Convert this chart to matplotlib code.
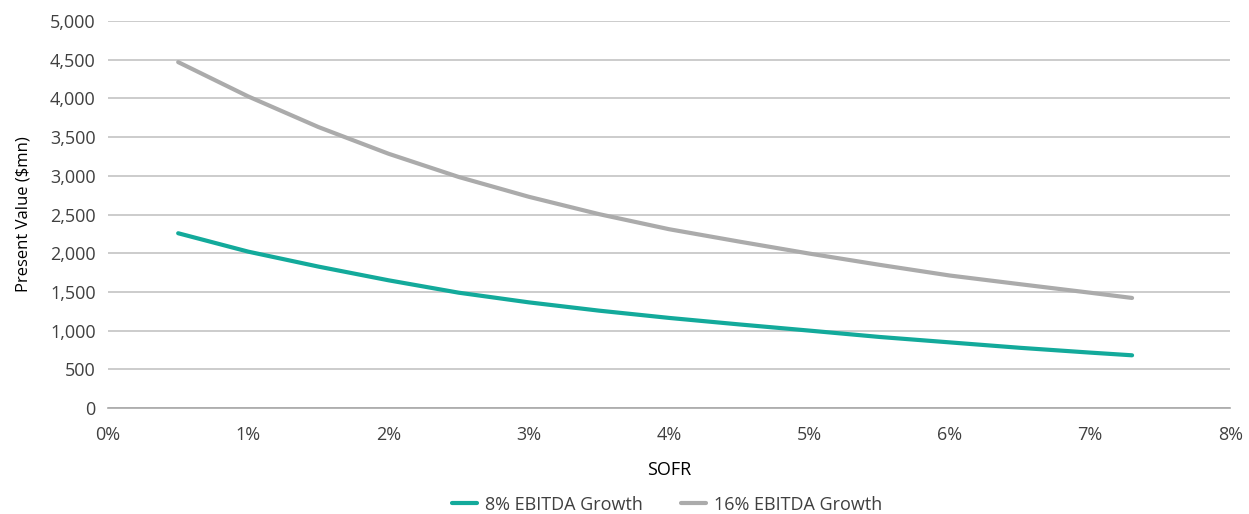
import numpy as np
import matplotlib as mpl
mpl.use('Agg')
import matplotlib.pyplot as plt
from matplotlib.ticker import FuncFormatter

# SOFR (%) and present value ($mn)
sofr = [0.5, 1.0, 1.5, 2.0, 2.5, 3.0, 3.5, 4.0, 4.5, 5.0, 5.5, 6.0, 6.5, 7.0, 7.3]
pv_8 = [2258, 2020, 1827, 1650, 1490, 1365, 1258, 1164, 1080, 1000, 918, 848, 778, 716, 681]
pv_16 = [4469, 4025, 3630, 3285, 2985, 2729, 2505, 2310, 2150, 1995, 1850, 1712, 1600, 1490, 1422]

series_names = ['8% EBITDA Growth', '16% EBITDA Growth']
series_colors = ['#13AA9B', '#ABABAB']

TEXT_COLOR = '#404040'
GRID_COLOR = '#C4C4C4'

plt.rcParams.update({
    'font.family': ['Open Sans', 'DejaVu Sans'],
    'font.size': 13,
    'text.color': TEXT_COLOR,
    'xtick.color': TEXT_COLOR,
    'ytick.color': TEXT_COLOR,
})

fig = plt.figure(figsize=(12.49, 5.14), dpi=100)
ax = fig.add_axes([0.0865, 0.2062, 0.8985, 0.7529])

for y, name, color in zip([pv_8, pv_16], series_names, series_colors):
    ax.plot(sofr, y, color=color, lw=3, label=name, solid_capstyle='round',
            solid_joinstyle='round')

ax.set_xlim(0, 8)
ax.set_ylim(0, 5000)
ax.set_xticks(range(0, 9))
ax.set_yticks(range(0, 5001, 500))
ax.xaxis.set_major_formatter(FuncFormatter(lambda v, p: f'{v:.0f}%'))
ax.yaxis.set_major_formatter(FuncFormatter(lambda v, p: f'{v:,.0f}'))
ax.tick_params(axis='both', length=0, labelsize=13)
ax.tick_params(axis='x', pad=13)
ax.tick_params(axis='y', pad=9)

ax.grid(axis='y', color=GRID_COLOR, lw=1.2)
ax.set_axisbelow(True)
for s in ['top', 'right', 'left']:
    ax.spines[s].set_visible(False)
ax.spines['bottom'].set_color('#A8A8A8')
ax.spines['bottom'].set_linewidth(1.2)

ax.set_xlabel('SOFR', fontsize=13, labelpad=12)
ax.set_ylabel(r'Present Value (\$mn)', fontsize=12, labelpad=13)

handles, labels = ax.get_legend_handles_labels()
fig.legend(handles, labels, loc='center', bbox_to_anchor=(0.534, 0.018),
           ncol=2, frameon=False, fontsize=13, handlelength=1.4,
           columnspacing=2.1, handletextpad=0.45)

fig.savefig('out.png', dpi=100)
